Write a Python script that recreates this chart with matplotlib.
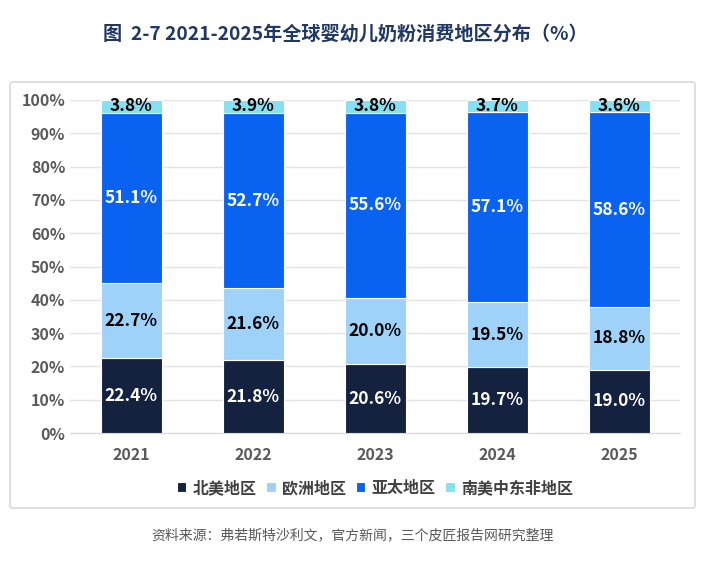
import numpy as np
import matplotlib.pyplot as plt
from matplotlib.patches import FancyBboxPatch

plt.rcParams['font.family'] = ['Noto Sans CJK SC', 'DejaVu Sans']

years = ['2021', '2022', '2023', '2024', '2025']
north_america = [22.4, 21.8, 20.6, 19.7, 19.0]
europe = [22.7, 21.6, 20.0, 19.5, 18.8]
asia_pacific = [51.1, 52.7, 55.6, 57.1, 58.6]
others = [3.8, 3.9, 3.8, 3.7, 3.6]

series = [
    ('北美地区', north_america, '#14213f', 'white'),
    ('欧洲地区', europe, '#9fd2f8', 'black'),
    ('亚太地区', asia_pacific, '#0a62f0', 'white'),
    ('南美中东非地区', others, '#85e0f2', 'black'),
]

fig = plt.figure(figsize=(7.05, 5.61), dpi=100)

# frame round the chart
frame = FancyBboxPatch((10 / 705, 1 - 508 / 561), 685 / 705, 426 / 561,
                       boxstyle='round,pad=0,rounding_size=0.004',
                       transform=fig.transFigure, facecolor='none',
                       edgecolor='#d9d9d9', linewidth=1.2)
fig.patches.append(frame)

fig.text(0.49, 1 - 34 / 561, '图  2-7 2021-2025年全球婴幼儿奶粉消费地区分布（%）',
         ha='center', va='center', fontsize=13.8, fontweight='bold', color='#1f3864')

ax = fig.add_axes([70 / 705, 1 - 433 / 561, 610 / 705, 333 / 561])
x = np.arange(len(years))
bottom = np.zeros(len(years))
for name, vals, color, tcolor in series:
    vals = np.array(vals)
    ax.bar(x, vals, 0.5, bottom=bottom, color=color, label=name,
           edgecolor='white', linewidth=0.8, zorder=3)
    for xi, b, v in zip(x, bottom, vals):
        ax.text(xi, b + v / 2, f'{v:.1f}%', ha='center', va='center',
                fontsize=12.5, fontweight='bold', color=tcolor, zorder=4)
    bottom += vals

ax.set_xlim(-0.5, len(years) - 0.5)
ax.set_ylim(0, 100)
ax.set_yticks(range(0, 101, 10))
ax.set_yticklabels([f'{v}%' for v in range(0, 101, 10)])
ax.set_xticks(x)
ax.set_xticklabels(years)
ax.tick_params(axis='both', length=0, labelsize=11.5, labelcolor='#595959')
ax.tick_params(axis='x', pad=10)
for lab in ax.get_xticklabels() + ax.get_yticklabels():
    lab.set_fontweight('bold')
ax.grid(axis='y', color='#e3e3e3', linewidth=1, zorder=0)
for s in ['top', 'right', 'left']:
    ax.spines[s].set_visible(False)
ax.spines['bottom'].set_color('#d9d9d9')

leg = ax.legend(loc='center', bbox_to_anchor=(0.5, -0.165), ncol=4,
                frameon=False, handlelength=0.6, handleheight=0.6,
                handletextpad=0.4, columnspacing=0.6,
                prop={'size': 11.5, 'weight': 'bold'})
for t in leg.get_texts():
    t.set_color('#404040')

fig.text(0.5, 1 - 535 / 561, '资料来源：弗若斯特沙利文，官方新闻，三个皮匠报告网研究整理',
         ha='center', va='center', fontsize=10, color='#595959')

fig.savefig('out.png', dpi=100)
